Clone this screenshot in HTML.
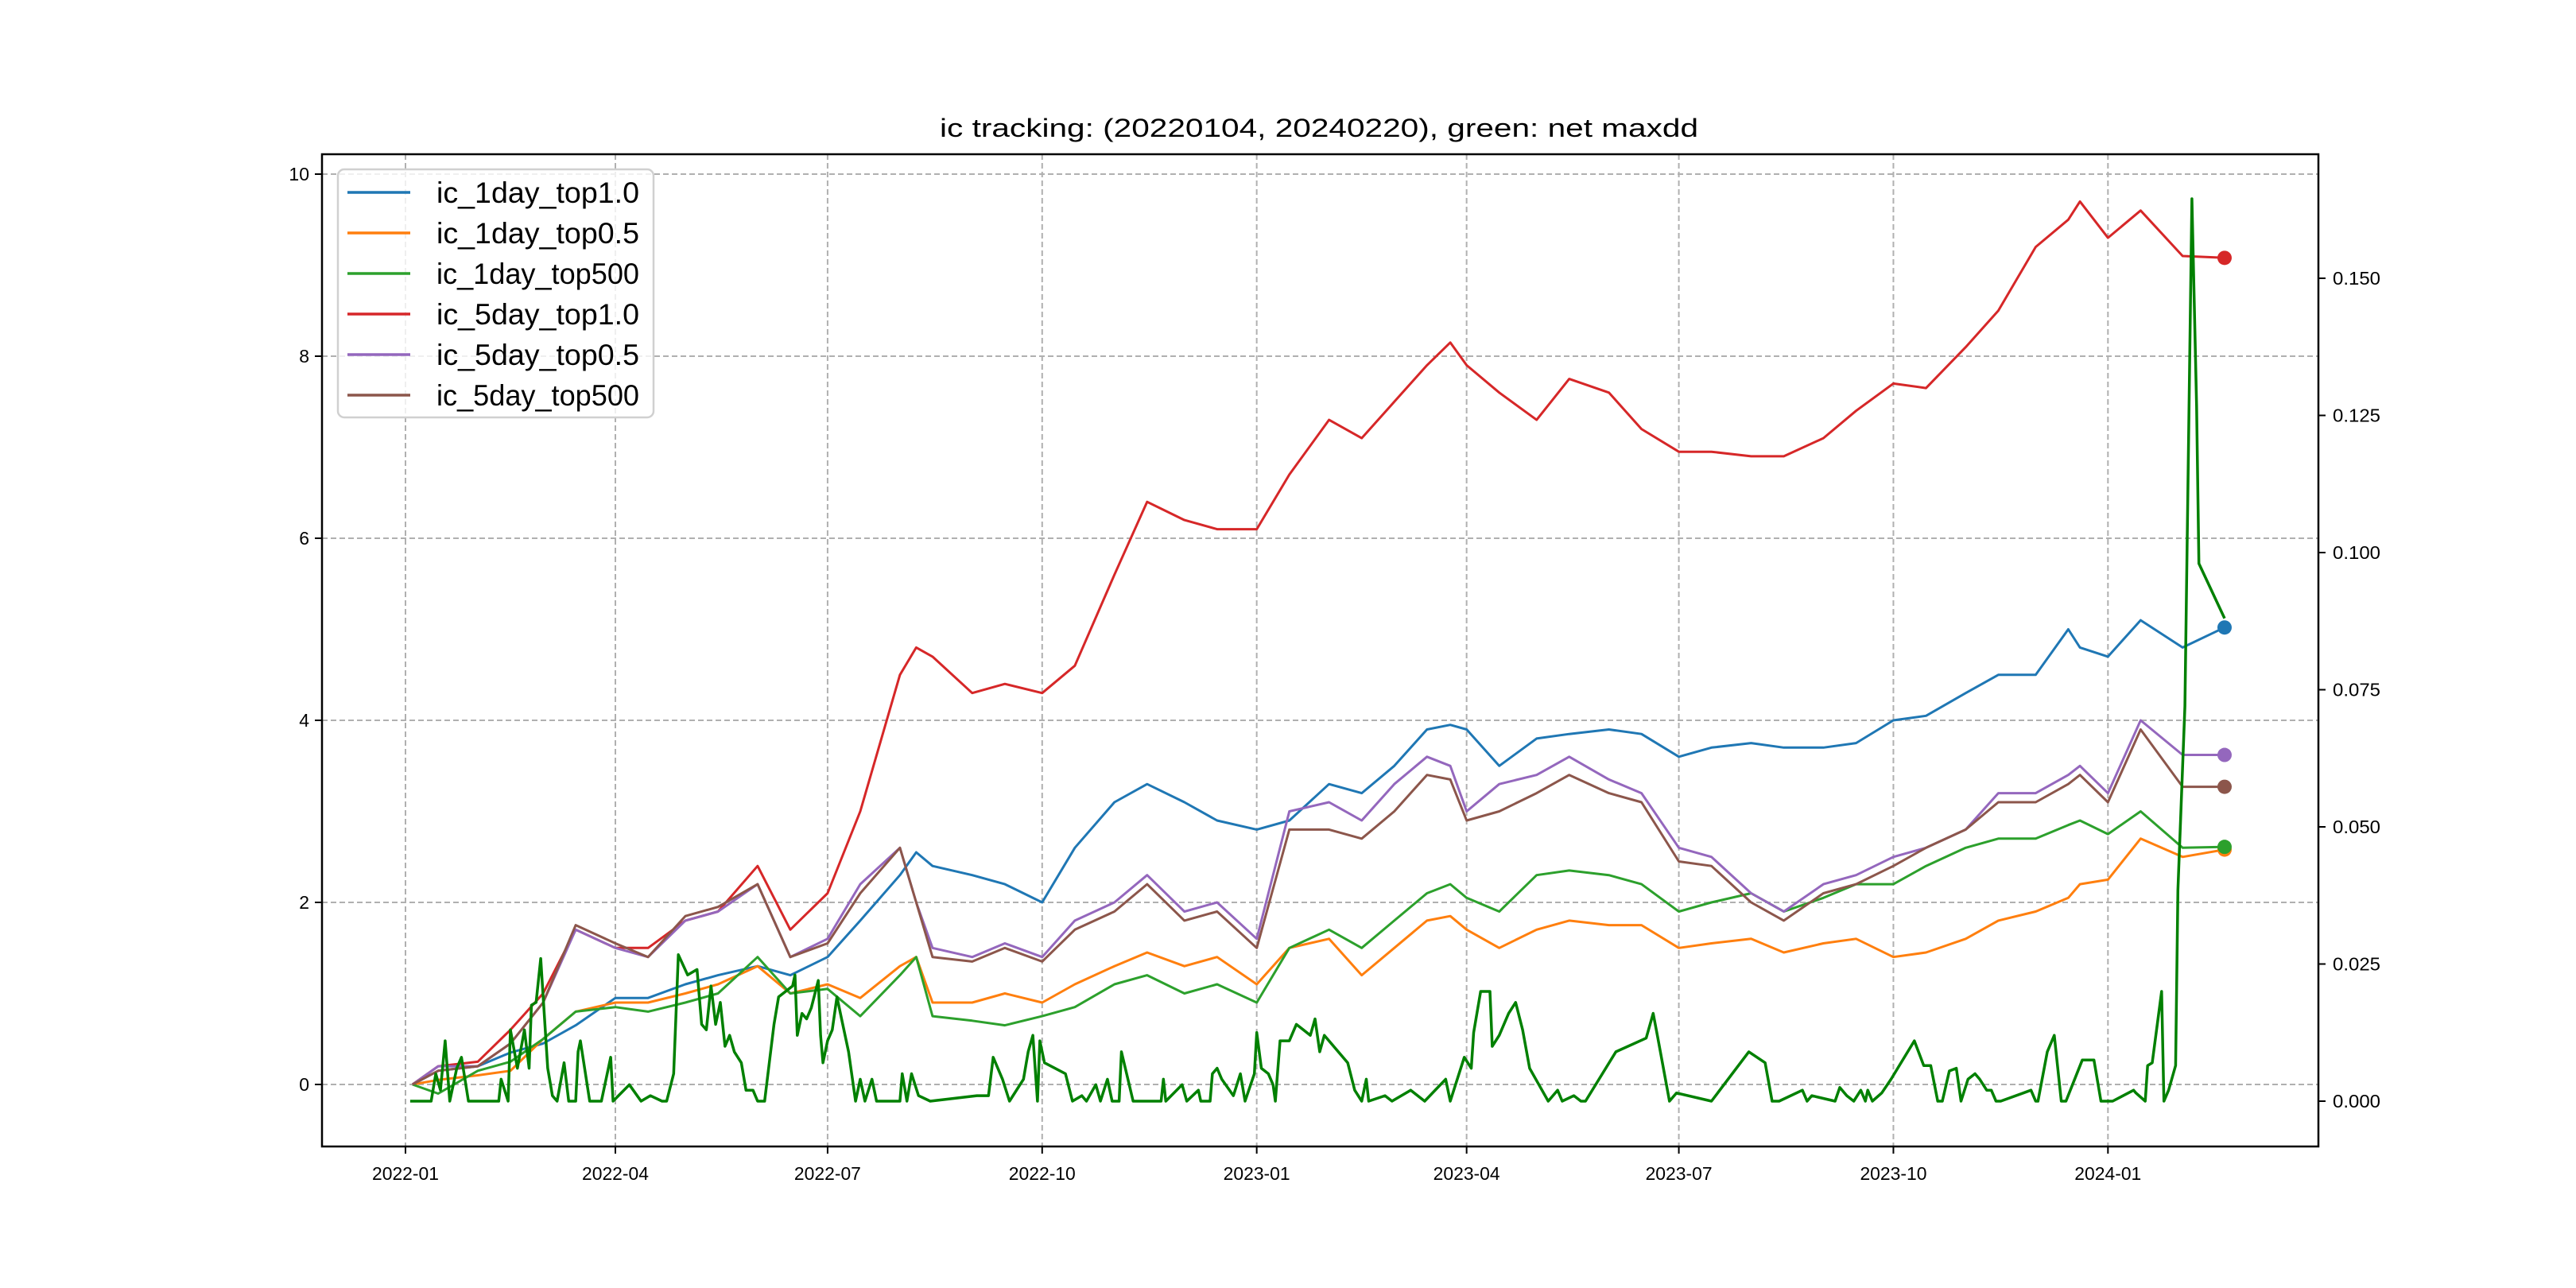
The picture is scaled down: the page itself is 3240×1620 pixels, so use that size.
<!DOCTYPE html>
<html><head><meta charset="utf-8"><style>
html,body{margin:0;padding:0;background:#fff;}
svg{display:block;font-family:"Liberation Sans","Noto Sans CJK SC",sans-serif;}
</style></head><body>
<svg id="chart" width="3240" height="1620" viewBox="0 0 3240 1620" xmlns="http://www.w3.org/2000/svg">
<rect x="0" y="0" width="3240" height="1620" fill="#fff"/>
<g id="grid"></g>
<g id="series"></g>
<rect x="405" y="194" width="2511" height="1248" fill="none" stroke="#000" stroke-width="2.5"/>
<g id="axes"></g>
<text x="1659" y="172" text-anchor="middle" font-size="32" textLength="954" lengthAdjust="spacingAndGlyphs">ic tracking: (20220104, 20240220), green: net maxdd</text>
<g id="legend"></g>
</svg>
<script>
const dates = ["2022-01-04","2022-01-15","2022-02-01","2022-02-15","2022-03-01","2022-03-15","2022-04-01","2022-04-15","2022-05-01","2022-05-15","2022-06-01","2022-06-15","2022-07-01","2022-07-15","2022-08-01","2022-08-08","2022-08-15","2022-09-01","2022-09-15","2022-10-01","2022-10-15","2022-11-01","2022-11-15","2022-12-01","2022-12-15","2023-01-01","2023-01-15","2023-02-01","2023-02-15","2023-03-01","2023-03-15","2023-03-25","2023-04-01","2023-04-15","2023-05-01","2023-05-15","2023-06-01","2023-06-15","2023-07-01","2023-07-15","2023-08-01","2023-08-15","2023-09-01","2023-09-15","2023-10-01","2023-10-15","2023-11-01","2023-11-15","2023-12-01","2023-12-15","2023-12-20","2024-01-01","2024-01-15","2024-02-02","2024-02-20"];
const ic1dTop10 = [0,.15,.2,.35,.45,.65,.95,.95,1.1,1.2, 1.3,1.2,1.4,1.8,2.3,2.55,2.4,2.3,2.2,2.0, 2.6,3.1,3.3,3.1,2.9,2.8,2.9,3.3,3.2,3.5, 3.9,3.95,3.9,3.5,3.8,3.85,3.9,3.85,3.6,3.7, 3.75,3.7,3.7,3.75,4.0,4.05,4.3,4.5,4.5,5.0, 4.8,4.7,5.1,4.8,5.02];
const ic1dTop05 = [0,.05,.1,.15,.5,.8,.9,.9,1.0,1.1, 1.3,1.0,1.1,.95,1.3,1.4,.9,.9,1.0,.9, 1.1,1.3,1.45,1.3,1.4,1.1,1.5,1.6,1.2,1.5, 1.8,1.85,1.7,1.5,1.7,1.8,1.75,1.75,1.5,1.55, 1.6,1.45,1.55,1.6,1.4,1.45,1.6,1.8,1.9,2.05, 2.2,2.25,2.7,2.5,2.58];
const ic1dTop500 = [0,-.1,.15,.25,.5,.8,.85,.8,.9,1.0, 1.4,1.0,1.05,.75,1.2,1.4,.75,.7,.65,.75, .85,1.1,1.2,1.0,1.1,.9,1.5,1.7,1.5,1.8, 2.1,2.2,2.05,1.9,2.3,2.35,2.3,2.2,1.9,2.0, 2.1,1.9,2.05,2.2,2.2,2.4,2.6,2.7,2.7,2.85, 2.9,2.75,3.0,2.6,2.61];
const ic5dTop10 = [0,.2,.25,.6,1.0,1.7,1.5,1.5,1.8,1.9, 2.4,1.7,2.1,3.0,4.5,4.8,4.7,4.3,4.4,4.3, 4.6,5.6,6.4,6.2,6.1,6.1,6.7,7.3,7.1,7.5, 7.9,8.15,7.9,7.6,7.3,7.75,7.6,7.2,6.95,6.95, 6.9,6.9,7.1,7.4,7.7,7.65,8.1,8.5,9.2,9.5, 9.7,9.3,9.6,9.1,9.08];
const ic5dTop05 = [0,.2,.2,.45,.9,1.7,1.5,1.4,1.8,1.9, 2.2,1.4,1.6,2.2,2.6,2.0,1.5,1.4,1.55,1.4, 1.8,2.0,2.3,1.9,2.0,1.6,3.0,3.1,2.9,3.3, 3.6,3.5,3.0,3.3,3.4,3.6,3.35,3.2,2.6,2.5, 2.1,1.9,2.2,2.3,2.5,2.6,2.8,3.2,3.2,3.4, 3.5,3.2,4.0,3.62,3.62];
const ic5dTop500 = [0,.15,.2,.45,.9,1.75,1.55,1.4,1.85,1.95, 2.2,1.4,1.55,2.1,2.6,2.0,1.4,1.35,1.5,1.35, 1.7,1.9,2.2,1.8,1.9,1.5,2.8,2.8,2.7,3.0, 3.4,3.35,2.9,3.0,3.2,3.4,3.2,3.1,2.45,2.4, 2.0,1.8,2.1,2.2,2.4,2.6,2.8,3.1,3.1,3.3, 3.4,3.1,3.9,3.27,3.27];
// net maxdd: day offsets since 2022-01-01 and values (right axis)
const mddDays = [2,11,13,15,17,19,22,24,27,40,41,44,45,48,51,53,54,56,58,61,63,65,68,70,73,74,75,79,84,88,89,96,101,105,110,112,115,117,121,125,127,129,131,133,135,137,139,141,144,146,149,151,154,156,158,160,163,166,167,168,170,172,174,177,178,179,181,183,185,187,190,193,195,197,200,202,212,213,215,217,220,225,245,250,252,256,259,265,267,269,271,272,274,283,286,290,292,296,298,301,303,306,307,312,324,325,326,333,335,340,341,345,346,348,350,355,358,360,364,365,367,370,372,373,375,379,382,385,388,390,392,394,404,407,410,412,413,420,423,431,437,446,448,454,457,458,461,465,466,469,473,476,479,482,486,490,494,496,501,504,506,519,532,535,537,542,545,560,576,583,586,589,599,601,603,613,615,618,621,624,626,627,629,633,637,647,651,654,657,659,662,665,667,670,673,675,678,680,682,684,697,699,700,704,707,710,712,719,724,727,732,741,742,746,747,749,753,754,756,759,760,763,766,768,769,780,781];
const mddValues = [0,0,.005,.002,.011,0,.006,.008,0,0,.004,0,.013,.006,.013,.006,.0175,.018,.026,.006,.001,0,.007,0,0,.009,.011,0,0,.008,0,.003,0,.001,0,0,.005,.0267,.023,.024,.014,.013,.021,.014,.018,.01,.012,.009,.007,.002,.002,0,0,.007,.014,.019,.02,.021,.023,.012,.016,.015,.017,.022,.012,.007,.011,.013,.019,.015,.009,0,.004,0,.004,0,0,.005,0,.005,.001,0,.001,.001,.008,.004,0,.004,.009,.012,0,.011,.007,.005,0,.001,0,.003,0,.004,0,0,.009,0,0,.004,0,.003,0,.002,0,0,.005,.006,.004,.001,.005,0,.005,.0125,.006,.005,.003,0,.011,.011,.014,.013,.012,.015,.009,.012,.007,.002,0,.004,0,.001,0,.002,0,.004,0,.008,.006,.0125,.02,.02,.01,.012,.016,.018,.013,.006,.003,0,.002,0,.001,0,0,.009,.0115,.016,.0115,0,.0015,0,.009,.007,0,0,.002,0,.001,0,.0025,.001,0,.002,0,.002,0,.0015,.004,.011,.0065,.0065,0,0,.0055,.006,0,.004,.005,.004,.002,.002,0,0,.002,0,0,.009,.012,0,0,.0075,.0075,0,0,.002,.0015,0,.0065,.007,.020,0,.002,.0065,.0385,.072,.1645,.1267,.098,.088];
const xTickLabels = ["2022-01","2022-04","2022-07","2022-10","2023-01","2023-04","2023-07","2023-10","2024-01"];
const yTickLabels = ["0","2","4","6","8","10"];
const yTicks = [0,2,4,6,8,10];
const y2Ticks = [0,0.025,0.05,0.075,0.1,0.125,0.15];
const y2TickLabels = ["0.000","0.025","0.050","0.075","0.100","0.125","0.150"];

const NS="http://www.w3.org/2000/svg";
const L=405,R=2916,T=194,B=1442;
const t0=Date.UTC(2022,0,1);
function dayOf(s){const p=s.split("-").map(Number);return (Date.UTC(p[0],p[1]-1,p[2]||1)-t0)/86400000;}
function xDay(d){return 510+d*2.9333;}
function yL(v){return 1364-v*114.5;}
function yR(v){return 1385-v*6900;}
function mk(tag,attrs,parent){const e=document.createElementNS(NS,tag);for(const k in attrs)e.setAttribute(k,attrs[k]);parent.appendChild(e);return e;}
const grid=document.getElementById('grid'),axes=document.getElementById('axes'),ser=document.getElementById('series'),leg=document.getElementById('legend');

xTickLabels.forEach((lab)=>{
  const x=xDay(dayOf(lab+"-01"));
  let g=mk('line',{x1:x,x2:x,y1:T,y2:B,stroke:'#b0b0b0','stroke-width':2,'stroke-dasharray':'7,4'},grid);
  
  
  let tk=mk('line',{x1:x,x2:x,y1:B,y2:B+9,stroke:'#000','stroke-width':2},axes);
  
  
  let t=mk('text',{x:x,y:B+42,'text-anchor':'middle','font-size':23,textLength:84,lengthAdjust:'spacingAndGlyphs'},axes);
  t.textContent=lab;
  
  
});
yTicks.forEach((v,i)=>{
  const y=yL(v);
  let g=mk('line',{x1:L,x2:R,y1:y,y2:y,stroke:'#b0b0b0','stroke-width':2,'stroke-dasharray':'7,4'},grid);
  
  
  let tk=mk('line',{x1:L-9,x2:L,y1:y,y2:y,stroke:'#000','stroke-width':2},axes);
  
  
  let t=mk('text',{x:L-16,y:y+8,'text-anchor':'end','font-size':23},axes);
  t.textContent=yTickLabels[i];
  
  
});
y2Ticks.forEach((v,i)=>{
  const y=yR(v);
  let tk=mk('line',{x1:R,x2:R+9,y1:y,y2:y,stroke:'#000','stroke-width':2},axes);
  
  
  let t=mk('text',{x:R+18,y:y+8,'text-anchor':'start','font-size':23,textLength:60,lengthAdjust:'spacingAndGlyphs'},axes);
  t.textContent=y2TickLabels[i];
  
  
});

const seriesList=[
  ['ic_1day_top1.0',ic1dTop10,'#1f77b4'],
  ['ic_1day_top0.5',ic1dTop05,'#ff7f0e'],
  ['ic_1day_top500',ic1dTop500,'#2ca02c'],
  ['ic_5day_top1.0',ic5dTop10,'#d62728'],
  ['ic_5day_top0.5',ic5dTop05,'#9467bd'],
  ['ic_5day_top500',ic5dTop500,'#8c564b']
];
seriesList.forEach(([name,vals,col])=>{
  const pts=vals.map((v,i)=>xDay(dayOf(dates[i])).toFixed(1)+','+yL(v).toFixed(1)).join(' ');
  let p=mk('polyline',{points:pts,fill:'none',stroke:col,'stroke-width':3,'stroke-linejoin':'round'},ser);
  
  
  const n=vals.length-1;
  let c=mk('circle',{cx:xDay(dayOf(dates[n])),cy:yL(vals[n]),r:9,fill:col},ser);
  
  
});
const mddPts=mddDays.map((d,i)=>xDay(d).toFixed(1)+','+yR(mddValues[i]).toFixed(1)).join(' ');
let mp=mk('polyline',{points:mddPts,fill:'none',stroke:'#008000','stroke-width':3.5,'stroke-linejoin':'round'},ser);



let box=mk('rect',{x:425,y:213,width:397,height:312,rx:8,fill:'#fff','fill-opacity':0.8,stroke:'#d0d0d0','stroke-width':2.5},leg);


seriesList.forEach(([name,vals,col],i)=>{
  const y=242+i*51;
  let g=mk('g',{},leg);
  
  
  mk('line',{x1:437,x2:516,y1:y,y2:y,stroke:col,'stroke-width':3.5},g);
  let t=mk('text',{x:549,y:y+13,'font-size':37,textLength:255,lengthAdjust:'spacingAndGlyphs'},g);
  t.textContent=name;
});
</script>
</body></html>
